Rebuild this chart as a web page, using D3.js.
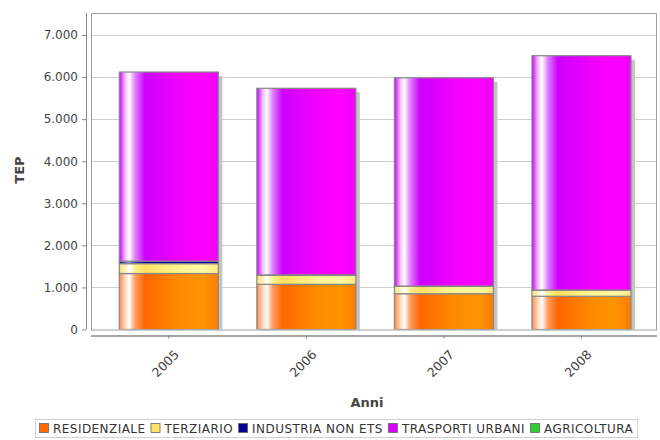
<!DOCTYPE html>
<html><head><meta charset="utf-8">
<script src="https://cdn.jsdelivr.net/npm/d3@7"></script>
<style>body{margin:0;background:#fff}svg{display:block;font-family:"DejaVu Sans",sans-serif}</style>
</head><body><svg id="c" width="660" height="440"></svg>
<script>
const years = ["2005","2006","2007","2008"];
const series = ["RESIDENZIALE","TERZIARIO","INDUSTRIA NON ETS","TRASPORTI URBANI","AGRICOLTURA"];
const residenziale = [1330, 1075, 850, 790];
const terziario = [235, 215, 175, 140];
const industriaNonEts = [60, 8, 8, 8];
const trasportiUrbani = [4495, 4435, 4950, 5570];
const agricoltura = [0, 0, 0, 0];
const yTicks = [0,1000,2000,3000,4000,5000,6000,7000];
const tickLabels = ["0","1.000","2.000","3.000","4.000","5.000","6.000","7.000"];

const colors = ["#ff6a00","#ffe566","#000099","#dd00ff","#33cc33"];
const grads = [
  ["#ff8a40","#ffd9c0","#ffffff","#ff9c60","#ff6600","#ff8a00","#ff9400","#ff7a00"],
  ["#ffe070","#fff0c0","#ffffff","#fff090","#ffe060","#fff590","#fff8a0","#ffe880"],
  ["#0000aa","#6666cc","#9999dd","#3333bb","#000099","#0000a0","#0000aa","#000099"],
  ["#cc00ff","#f0c0ff","#ffffff","#e080ff","#cc00ff","#f000ff","#ff00ff","#ee00ff"],
  ["#33cc33","#b0eeb0","#ffffff","#80dd80","#33cc33","#44dd44","#55ee55","#33cc33"]
];
const offs = [0,0.06,0.1,0.16,0.26,0.6,0.85,1];

const svg = d3.select("#c");
const defs = svg.append("defs");
grads.forEach((g,i)=>{
  const lg = defs.append("linearGradient").attr("id","g"+i).attr("x1","0").attr("x2","1").attr("y1","0").attr("y2","0");
  g.forEach((c,j)=>lg.append("stop").attr("offset",offs[j]).attr("stop-color",c));
});
const L=91, R=657, T=13, B=329.5;
defs.append("clipPath").attr("id","clip").append("rect").attr("x",L).attr("y",T).attr("width",R-L).attr("height",B-T);

const y = d3.scaleLinear().domain([0,7000/ (329.5-35) * (329.5-13)]).range([B,T]);
const x = d3.scaleBand().domain(years).range([119.3,631]).paddingInner(0.28).paddingOuter(0);

svg.append("rect").attr("x",L).attr("y",T).attr("width",R-L).attr("height",B-T).attr("fill","#fff");
svg.append("g").selectAll("line").data(yTicks.slice(1)).join("line")
  .attr("x1",L).attr("x2",R).attr("y1",d=>Math.round(y(d))+0.5).attr("y2",d=>Math.round(y(d))+0.5)
  .attr("stroke","#cfcfcf").attr("stroke-width",1);

const table = years.map((yr,i)=>({year:yr, vals:[residenziale[i],terziario[i],industriaNonEts[i],trasportiUrbani[i],agricoltura[i]]}));
const stack = d3.stack().keys([0,1,2,3,4]).value((d,k)=>d.vals[k])(table);

const plot = svg.append("g").attr("clip-path","url(#clip)");
plot.selectAll("rect.sh").data(table).join("rect").attr("class","sh")
  .attr("x",d=>x(d.year)+4).attr("width",x.bandwidth())
  .attr("y",d=>y(d3.sum(d.vals))+4).attr("height",d=>B-y(d3.sum(d.vals)))
  .attr("fill","#c4c4c4");
stack.forEach((s,k)=>{
  plot.append("g").selectAll("rect").data(s.filter(d=>d[1]>d[0])).join("rect")
    .attr("x",d=>x(d.data.year)).attr("width",x.bandwidth())
    .attr("y",d=>y(d[1])).attr("height",d=>Math.max(0,y(d[0])-y(d[1])))
    .attr("fill","url(#g"+k+")").attr("stroke","#888").attr("stroke-width",1.2);
});
svg.append("rect").attr("x",L+0.5).attr("y",T+0.5).attr("width",R-L-1).attr("height",B-T).attr("fill","none").attr("stroke","#a0a0a0").attr("stroke-width",1);

const ya = svg.append("g").attr("transform","translate(86,0)")
  .call(d3.axisLeft(y).tickValues(yTicks).tickFormat((d,i)=>tickLabels[i]).tickSize(4).tickPadding(4));
ya.select(".domain").attr("d","M0.5,"+T+"V"+B).attr("stroke","#888");
ya.selectAll(".tick line").attr("stroke","#888");
ya.selectAll("text").attr("fill","#444").attr("font-size","12px").attr("font-family","DejaVu Sans, sans-serif");

const xa = svg.append("g").attr("transform","translate(0,335.5)")
  .call(d3.axisBottom(x).tickSize(3).tickSizeOuter(0));
xa.select(".domain").attr("d","M"+L+",0.5H"+R).attr("stroke","#888").attr("stroke-width",1.5);
xa.selectAll(".tick line").attr("stroke","#888");
xa.selectAll("text").attr("fill","#444").attr("font-size","12.5px").attr("font-family","DejaVu Sans, sans-serif")
  .attr("text-anchor","end").attr("dy",null).attr("y",null)
  .attr("transform","translate(11,20) rotate(-45)");

svg.append("text").attr("x",367).attr("y",407).attr("text-anchor","middle")
  .attr("font-size","13px").attr("font-weight","bold").attr("fill","#444").text("Anni");
svg.append("text").attr("transform","translate(24,170) rotate(-90)").attr("text-anchor","middle")
  .attr("font-size","13px").attr("font-weight","bold").attr("fill","#444").text("TEP");

// legend
const lg = svg.append("g");
const box = lg.append("rect").attr("y",419.5).attr("height",18).attr("fill","#fff").attr("stroke","#d0d0d0");
const items = lg.append("g");
let lx = 4;
items.selectAll("g").data(series).join("g").each(function(s,i){
  const g = d3.select(this);
  g.append("rect").attr("x",lx+0.5).attr("y",423.5).attr("width",9).attr("height",9).attr("fill",colors[i]).attr("stroke","#666").attr("stroke-width",0.8);
  const t = g.append("text").attr("x",lx+14).attr("y",432.5).attr("font-size","12px").attr("letter-spacing","0.45px").attr("fill","#333").text(s);
  lx += 14 + t.node().getComputedTextLength() + 5;
});
const total = lx - 5 + 4;
const x0 = Math.round(336.5 - total/2);
items.attr("transform","translate("+x0+",0)");
box.attr("x",x0+0.5).attr("width",total);
</script></body></html>
